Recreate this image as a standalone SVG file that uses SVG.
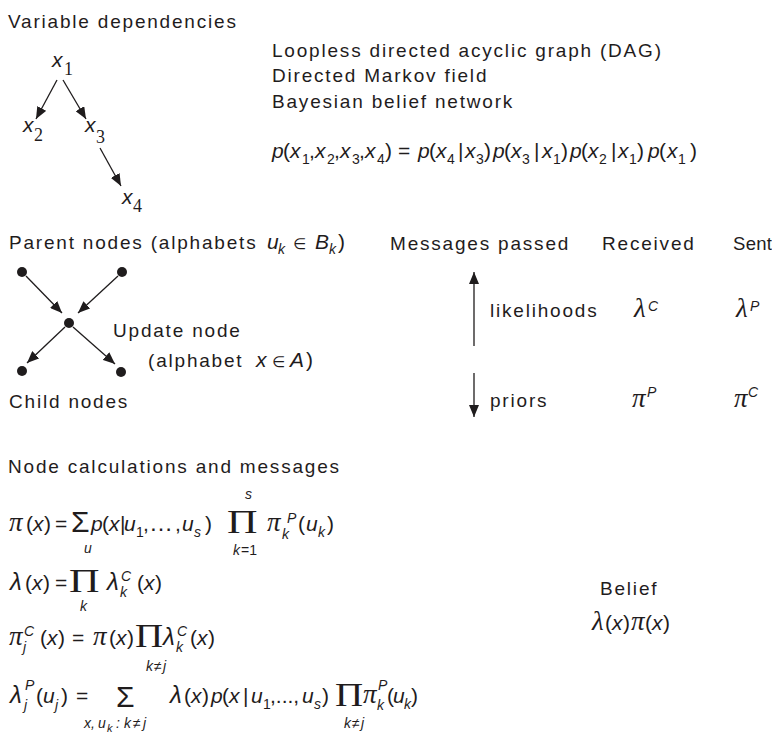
<svg xmlns="http://www.w3.org/2000/svg" width="772" height="745" viewBox="0 0 772 745">
<style>
text{fill:#1f1c1d}
.t{font-family:"Liberation Sans",Arial,sans-serif;font-size:19px;letter-spacing:1.8px}
.m{font-family:"Liberation Sans",Arial,sans-serif;font-size:21px}
.i{font-style:italic}
.s{font-size:14px}
.d{font-family:"Liberation Serif","Times New Roman",serif;font-size:18px;font-style:normal}
.gr{font-family:"Liberation Serif","DejaVu Serif",serif;font-style:italic;font-size:27px}
.lam{font-family:"Liberation Sans",Arial,sans-serif;font-style:italic;font-size:24px}
.sig{font-family:"Liberation Sans",Arial,sans-serif;font-size:30px;font-style:normal}
.pi{font-family:"Liberation Serif","Times New Roman",serif;font-size:33px;font-style:normal}
.el{font-family:"DejaVu Sans",sans-serif;font-size:15px;font-style:normal}
.ln{stroke:#1f1c1d;stroke-width:1.3;fill:none}
.dot{fill:#1f1c1d}
</style>
<defs>
<marker id="ah" markerUnits="userSpaceOnUse" markerWidth="12" markerHeight="10" refX="12" refY="5" orient="auto"><path d="M0,0 L12,5 L0,10 z" fill="#1f1c1d"/></marker>
</defs>

<g id="title-variable"><text class="t" x="8" y="28">Variable dependencies</text></g>

<g id="dag-x1"><text class="m i" x="52" y="67" font-size="22">x<tspan class="d" x="64" y="75">1</tspan></text></g>
<g id="dag-x2"><text class="m i" x="23" y="132" font-size="22">x<tspan class="d" x="34" y="141">2</tspan></text></g>
<g id="dag-x3"><text class="m i" x="85" y="132" font-size="22">x<tspan class="d" x="96" y="143">3</tspan></text></g>
<g id="dag-x4"><text class="m i" x="122" y="204" font-size="22">x<tspan class="d" x="133" y="212">4</tspan></text></g>

<g id="dag-names">
<text class="t" x="272" y="57">Loopless directed acyclic graph (DAG)</text>
<text class="t" x="272" y="82">Directed Markov field</text>
<text class="t" x="272" y="108">Bayesian belief network</text>
</g>

<g id="joint-formula"><text class="m"><tspan class="i" x="272" y="158">p</tspan><tspan x="283" y="158">(</tspan><tspan class="i" x="290" y="158">x</tspan><tspan class="s" x="302" y="164">1</tspan><tspan x="309" y="158">,</tspan><tspan class="i" x="315" y="158">x</tspan><tspan class="s" x="327" y="164">2</tspan><tspan x="334" y="158">,</tspan><tspan class="i" x="340" y="158">x</tspan><tspan class="s" x="352" y="164">3</tspan><tspan x="359" y="158">,</tspan><tspan class="i" x="365" y="158">x</tspan><tspan class="s" x="377" y="164">4</tspan><tspan x="385" y="158">)</tspan><tspan x="398" y="158">=</tspan><tspan class="i" x="418" y="158">p</tspan><tspan x="429" y="158">(</tspan><tspan class="i" x="436" y="158">x</tspan><tspan class="s" x="447" y="164">4</tspan><tspan x="458" y="158">|</tspan><tspan class="i" x="465" y="158">x</tspan><tspan class="s" x="476" y="164">3</tspan><tspan x="484" y="158">)</tspan><tspan class="i" x="493" y="158">p</tspan><tspan x="504" y="158">(</tspan><tspan class="i" x="511" y="158">x</tspan><tspan class="s" x="522" y="164">3</tspan><tspan x="534" y="158">|</tspan><tspan class="i" x="542" y="158">x</tspan><tspan class="s" x="553" y="164">1</tspan><tspan x="561" y="158">)</tspan><tspan class="i" x="570" y="158">p</tspan><tspan x="581" y="158">(</tspan><tspan class="i" x="588" y="158">x</tspan><tspan class="s" x="599" y="164">2</tspan><tspan x="611" y="158">|</tspan><tspan class="i" x="618" y="158">x</tspan><tspan class="s" x="629" y="164">1</tspan><tspan x="637" y="158">)</tspan><tspan class="i" x="648" y="158">p</tspan><tspan x="659" y="158">(</tspan><tspan class="i" x="667" y="158">x</tspan><tspan class="s" x="678" y="164">1</tspan><tspan x="690" y="158">)</tspan></text></g>

<g id="parent-label"><text class="t" x="9" y="249">Parent nodes (alphabets</text><text class="m"><tspan class="i" x="267" y="249">u</tspan><tspan class="i s" x="278" y="254">k</tspan><tspan class="el" x="293" y="249">∈</tspan><tspan class="i" x="315" y="249">B</tspan><tspan class="i s" x="329" y="254">k</tspan><tspan x="338" y="249">)</tspan></text></g>

<g id="parent-1"><circle class="dot" cx="22" cy="272" r="5"/></g>
<g id="parent-2"><circle class="dot" cx="122" cy="272" r="5"/></g>
<g id="update-node"><circle class="dot" cx="69" cy="323" r="5"/>
<text class="t" x="113" y="337">Update node</text>
<text class="t" x="148" y="367">(alphabet</text><text class="m"><tspan class="i" x="256" y="367">x</tspan><tspan class="el" x="272" y="367">∈</tspan><tspan class="i" x="290" y="367">A</tspan><tspan x="306" y="367">)</tspan></text></g>
<g id="child-1"><circle class="dot" cx="22" cy="371" r="5"/></g>
<g id="child-2"><circle class="dot" cx="121" cy="372" r="5"/></g>
<g id="child-label"><text class="t" x="9" y="408">Child nodes</text></g>

<g id="messages-table">
<text class="t" x="390" y="250">Messages passed</text>
<text class="t" x="602" y="250">Received</text>
<text class="t" x="733" y="250" style="letter-spacing:0.3px;font-size:18.5px">Sent</text>
<text class="t" x="490" y="317">likelihoods</text>
<text class="t" x="490" y="407">priors</text>
<text class="gr" x="634" y="317">λ<tspan class="m i s" x="648" y="311">C</tspan></text>
<text class="gr" x="736" y="317">λ<tspan class="m i s" x="750" y="311">P</tspan></text>
<text class="gr" x="632" y="407">π<tspan class="m i s" x="647" y="397">P</tspan></text>
<text class="gr" x="734" y="407">π<tspan class="m i s" x="748" y="397">C</tspan></text>
</g>

<g id="connectors">
<line class="ln" x1="57" y1="80" x2="36" y2="119" marker-end="url(#ah)"/>
<line class="ln" x1="63" y1="80" x2="86" y2="119" marker-end="url(#ah)"/>
<line class="ln" x1="100" y1="148" x2="121" y2="186" marker-end="url(#ah)"/>
<line class="ln" x1="26" y1="276" x2="62" y2="313" marker-end="url(#ah)"/>
<line class="ln" x1="118" y1="276" x2="78" y2="313" marker-end="url(#ah)"/>
<line class="ln" x1="65" y1="327" x2="27" y2="363" marker-end="url(#ah)"/>
<line class="ln" x1="73" y1="327" x2="115" y2="364" marker-end="url(#ah)"/>
<line class="ln" x1="474" y1="346" x2="474" y2="272" marker-end="url(#ah)"/>
<line class="ln" x1="474" y1="373" x2="474" y2="417" marker-end="url(#ah)"/>
</g>

<g id="calc-title"><text class="t" x="8" y="473">Node calculations and messages</text></g>

<g id="formula-pi">
<text class="m"><tspan class="gr" x="9" y="531">π</tspan><tspan x="26" y="531">(</tspan><tspan class="i" x="33" y="531">x</tspan><tspan x="44" y="531">)</tspan><tspan x="55" y="531">=</tspan><tspan class="sig" x="71" y="532">Σ</tspan><tspan class="i s" x="84" y="553">u</tspan><tspan class="i" x="91" y="531">p</tspan><tspan x="102" y="531">(</tspan><tspan class="i" x="109" y="531">x</tspan><tspan x="120" y="531">|</tspan><tspan class="i" x="124" y="531">u</tspan><tspan class="s" x="136" y="537">1</tspan><tspan x="143" y="531">,</tspan><tspan x="149" y="531" font-size="24">…</tspan><tspan x="175" y="531">,</tspan><tspan class="i" x="182" y="531">u</tspan><tspan class="i s" x="194" y="537">s</tspan><tspan x="205" y="531">)</tspan><tspan class="i s" x="245" y="499">s</tspan><tspan class="i s" x="233" y="555">k</tspan><tspan class="s" x="241" y="555">=1</tspan><tspan class="gr" x="267" y="531">π</tspan><tspan class="i s" x="282" y="539">k</tspan><tspan class="i s" x="287" y="523">P</tspan><tspan x="298" y="531">(</tspan><tspan class="i" x="306" y="531">u</tspan><tspan class="i s" x="318" y="537">k</tspan><tspan x="327" y="531">)</tspan></text>
<text class="pi" transform="translate(227,533) scale(1.28,1.05)">Π</text>
</g>

<g id="formula-lambda">
<text class="m"><tspan class="lam" x="10" y="590">λ</tspan><tspan x="25" y="590">(</tspan><tspan class="i" x="32" y="590">x</tspan><tspan x="43" y="590">)</tspan><tspan x="55" y="590">=</tspan><tspan class="i s" x="80" y="611">k</tspan><tspan class="lam" x="107" y="590">λ</tspan><tspan class="i s" x="120" y="597">k</tspan><tspan class="i s" x="121" y="581">C</tspan><tspan x="137" y="590">(</tspan><tspan class="i" x="144" y="590">x</tspan><tspan x="155" y="590">)</tspan></text>
<text class="pi" transform="translate(69,592) scale(1.28,1.05)">Π</text>
</g>

<g id="formula-pic">
<text class="m"><tspan class="gr" x="9" y="645">π</tspan><tspan class="i s" x="23" y="652">j</tspan><tspan class="i s" x="24" y="636">C</tspan><tspan x="40" y="645">(</tspan><tspan class="i" x="47" y="645">x</tspan><tspan x="58" y="645">)</tspan><tspan x="72" y="645">=</tspan><tspan class="gr" x="93" y="645">π</tspan><tspan x="109" y="645">(</tspan><tspan class="i" x="116" y="645">x</tspan><tspan x="127" y="645">)</tspan><tspan class="i s" x="146" y="671">k</tspan><tspan class="s" x="154" y="671">≠</tspan><tspan class="i s" x="163" y="671">j</tspan><tspan class="lam" x="163" y="645">λ</tspan><tspan class="i s" x="176" y="652">k</tspan><tspan class="i s" x="177" y="636">C</tspan><tspan x="190" y="645">(</tspan><tspan class="i" x="197" y="645">x</tspan><tspan x="208" y="645">)</tspan></text>
<text class="pi" transform="translate(135,647) scale(1.18,1)">Π</text>
</g>

<g id="formula-lambdap">
<text class="m"><tspan class="lam" x="10" y="703">λ</tspan><tspan class="i s" x="24" y="710">j</tspan><tspan class="i s" x="25" y="690">P</tspan><tspan x="36" y="703">(</tspan><tspan class="i" x="43" y="703">u</tspan><tspan class="i s" x="55" y="710">j</tspan><tspan x="61" y="703">)</tspan><tspan x="76" y="703">=</tspan><tspan class="sig" x="116" y="707">Σ</tspan><tspan class="i s" x="84" y="728">x,</tspan><tspan class="i s" x="98" y="728">u</tspan><tspan class="i" font-size="11" x="107" y="732">k</tspan><tspan class="i s" x="116" y="728">:</tspan><tspan class="i s" x="124" y="728">k</tspan><tspan class="s" x="133" y="728">≠</tspan><tspan class="i s" x="143" y="728">j</tspan><tspan class="lam" x="170" y="703">λ</tspan><tspan x="184" y="703">(</tspan><tspan class="i" x="191" y="703">x</tspan><tspan x="202" y="703">)</tspan><tspan class="i" x="211" y="703">p</tspan><tspan x="222" y="703">(</tspan><tspan class="i" x="229" y="703">x</tspan><tspan x="243" y="703">|</tspan><tspan class="i" x="251" y="703">u</tspan><tspan class="s" x="263" y="709">1</tspan><tspan x="270" y="703">,...,</tspan><tspan class="i" x="302" y="703">u</tspan><tspan class="i s" x="314" y="709">s</tspan><tspan x="322" y="703">)</tspan><tspan class="i s" x="344" y="728">k</tspan><tspan class="s" x="352" y="728">≠</tspan><tspan class="i s" x="361" y="728">j</tspan><tspan class="gr" x="363" y="703">π</tspan><tspan class="i s" x="377" y="710">k</tspan><tspan class="i s" x="378" y="690">P</tspan><tspan x="387" y="703">(</tspan><tspan class="i" x="393" y="703">u</tspan><tspan class="i s" x="404" y="709">k</tspan><tspan x="411" y="703">)</tspan></text>
<text class="pi" transform="translate(335,706) scale(1.18,1)">Π</text>
</g>

<g id="belief"><text class="t" x="600" y="595">Belief</text>
<text class="m"><tspan class="gr" font-style="normal" font-size="25" x="592" y="630">λ</tspan><tspan x="605" y="630">(</tspan><tspan class="i" x="612" y="630">x</tspan><tspan x="623" y="630">)</tspan><tspan class="gr" x="631" y="630">π</tspan><tspan x="645" y="630">(</tspan><tspan class="i" x="652" y="630">x</tspan><tspan x="663" y="630">)</tspan></text></g>
</svg>
